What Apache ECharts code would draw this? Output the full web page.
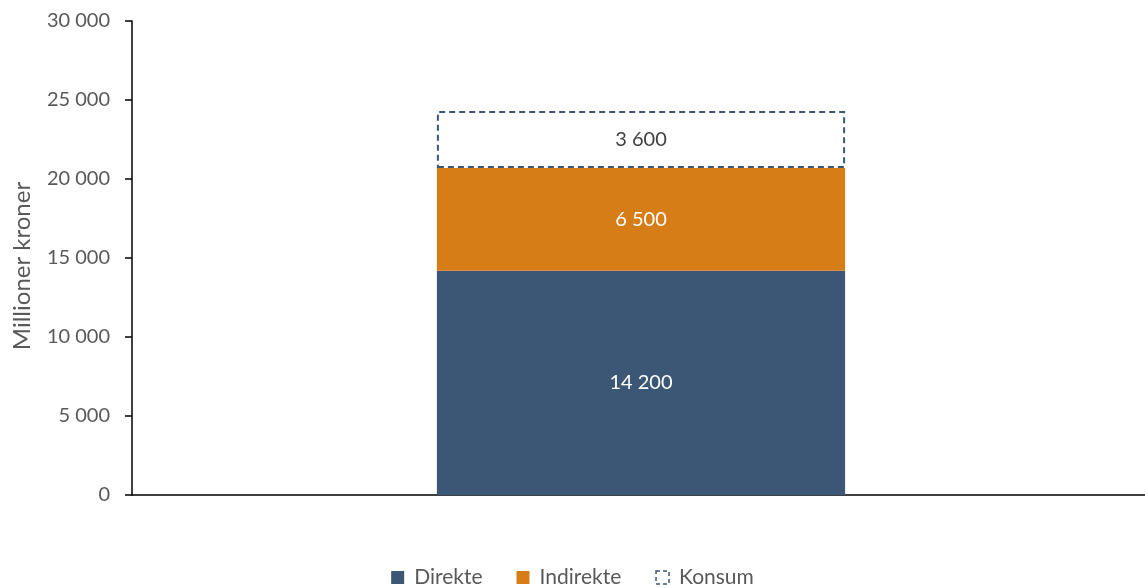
<!DOCTYPE html>
<html>
<head>
<meta charset="utf-8">
<script src="https://cdn.jsdelivr.net/npm/echarts@6/dist/echarts.min.js"></script>
<style>
  html, body { margin: 0; padding: 0; background: #fff; }
  #chart { width: 1145px; height: 588px; }
</style>
</head>
<body>
<div id="chart"></div>
<script>
// Stacked column: direct, indirect and consumption effects (million NOK)
const categories = [''];
const direkte = [14200];
const indirekte = [6500];
const konsum = [3600];
const yTicks = [0, 5000, 10000, 15000, 20000, 25000, 30000];

const FONT = 'Lato, "Open Sans", sans-serif';
const fmt = v => String(v).replace(/\B(?=(\d{3})+(?!\d))/g, ' ');

const chart = echarts.init(document.getElementById('chart'), null, { renderer: 'canvas' });

const labelStyle = color => ({
  show: true,
  position: 'inside',
  color: color,
  fontFamily: FONT,
  fontSize: 20,
  formatter: p => fmt(p.value)
});

chart.setOption({
  animation: false,
  grid: { left: 132, right: -5, top: 21, bottom: 93, containLabel: false, outerBoundsMode: 'none' },
  legend: {
    top: 562,
    left: 'center',
    itemWidth: 13,
    itemHeight: 13,
    itemGap: 34,
    icon: 'rect',
    textStyle: { fontFamily: FONT, fontSize: 21, color: '#595959', padding: [0, 0, 0, 5] },
    data: [
      { name: 'Direkte' },
      { name: 'Indirekte' },
      { name: 'Konsum', itemStyle: { color: '#ffffff', borderColor: '#3B5775', borderWidth: 1.5, borderType: [4, 3] } }
    ]
  },
  xAxis: {
    type: 'category',
    data: categories,
    axisLine: { lineStyle: { color: '#000', width: 1.5 } },
    axisTick: { show: false },
    axisLabel: { show: false }
  },
  yAxis: {
    type: 'value',
    min: yTicks[0],
    max: yTicks[yTicks.length - 1],
    interval: yTicks[1] - yTicks[0],
    name: 'Millioner kroner',
    nameLocation: 'middle',
    nameGap: 98,
    nameTextStyle: { fontFamily: FONT, fontSize: 24, color: '#595959', padding: [0, 16, 0, 0] },
    axisLine: { show: true, lineStyle: { color: '#000', width: 1.5 } },
    axisTick: { show: true, length: 7, lineStyle: { color: '#000', width: 1.5 } },
    splitLine: { show: false },
    axisLabel: {
      fontFamily: FONT,
      fontSize: 20,
      color: '#595959',
      margin: 22,
      formatter: v => fmt(v)
    }
  },
  series: [
    {
      name: 'Direkte',
      type: 'bar',
      stack: 'total',
      barWidth: '40.1%',
      data: direkte,
      itemStyle: { color: '#3B5775' },
      label: labelStyle('#ffffff')
    },
    {
      name: 'Indirekte',
      type: 'bar',
      stack: 'total',
      data: indirekte,
      itemStyle: { color: '#D67D17' },
      label: labelStyle('#ffffff')
    },
    {
      name: 'Konsum',
      type: 'bar',
      stack: 'total',
      data: konsum,
      itemStyle: {
        color: '#ffffff',
        borderColor: '#3B5775',
        borderWidth: 2,
        borderType: [6, 4]
      },
      label: labelStyle('#404040')
    }
  ]
});
</script>
</body>
</html>
